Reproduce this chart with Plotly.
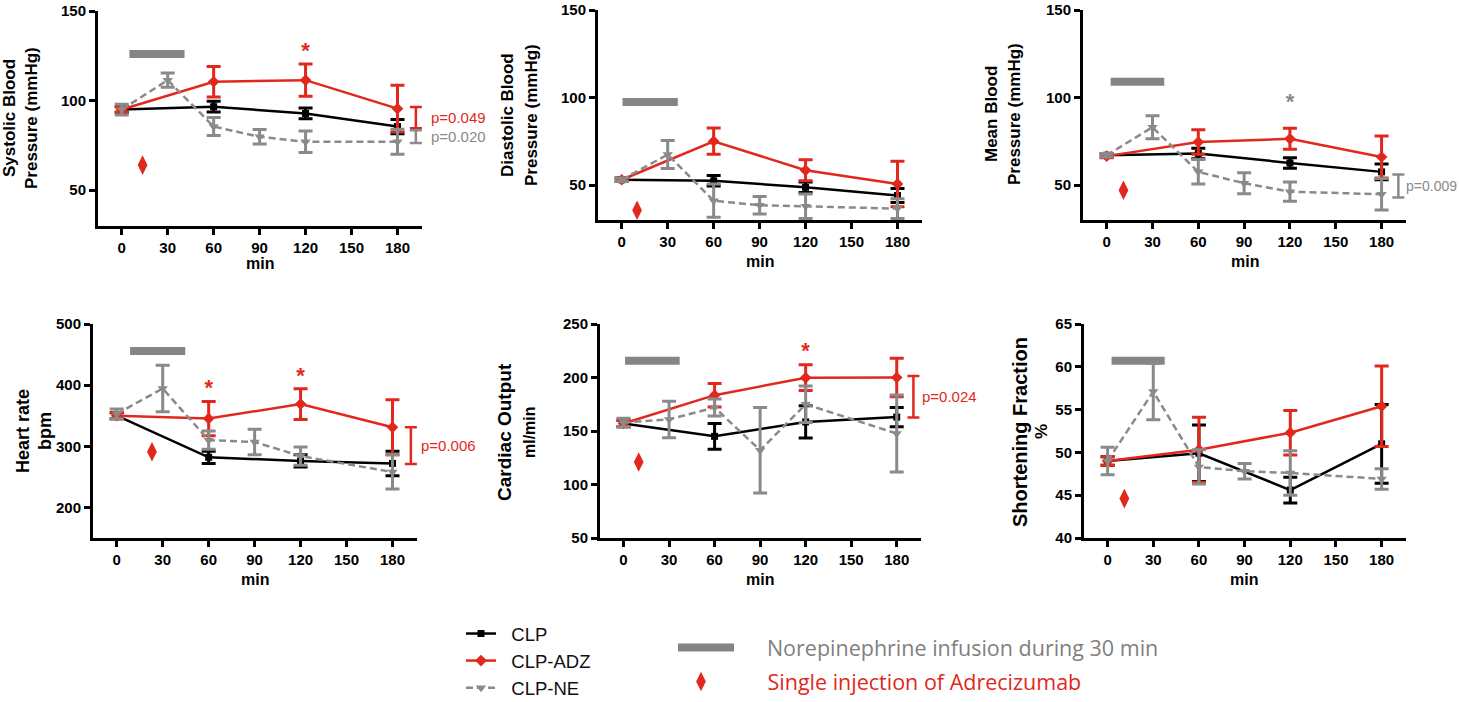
import plotly.graph_objects as go

W, H = 1459, 702

# ---------------- data ----------------
t_main = [0, 60, 120, 180]
t_ne = [0, 30, 60, 90, 120, 180]
x_ticks = [0, 30, 60, 90, 120, 150, 180]

# Systolic blood pressure (mmHg)
sbp_clp = [95, 96.6, 92.8, 85.5]
sbp_clp_sem = [1.5, 3, 3, 4]
sbp_adz = [95, 110.5, 111.4, 95.5]
sbp_adz_sem = [1.5, 8.5, 9, 13]
sbp_ne = [95, 111.4, 85.5, 79.8, 77, 77]
sbp_ne_sem = [3, 4, 5, 4, 6, 7]

# Diastolic blood pressure (mmHg)
dbp_clp = [53, 52.4, 48.7, 44]
dbp_clp_sem = [1, 3, 3, 4]
dbp_adz = [53, 75, 58.4, 50.6]
dbp_adz_sem = [1, 7.5, 6, 13]
dbp_ne = [53, 67.4, 41, 38.4, 37.8, 36.5]
dbp_ne_sem = [1, 8, 9.5, 5, 7, 5.6]

# Mean blood pressure (mmHg)
mbp_clp = [67, 68, 62.6, 57.5]
mbp_clp_sem = [1, 3, 3, 4.5]
mbp_adz = [66.5, 74.5, 76.4, 66]
mbp_adz_sem = [1, 7, 6, 12]
mbp_ne = [67, 83, 57.5, 51, 46.2, 44.7]
mbp_ne_sem = [1, 6.6, 7, 6, 5.5, 9]

# Heart rate (bpm)
hr_clp = [350, 282, 276, 272]
hr_clp_sem = [5, 10, 10, 20]
hr_adz = [350, 345.4, 369, 331]
hr_adz_sem = [5, 28, 25, 45]
hr_ne = [353, 394.5, 310, 307, 284, 258]
hr_ne_sem = [8, 38, 15, 21, 15, 28]

# Cardiac output (ml/min)
co_clp = [157, 145, 158.5, 163]
co_clp_sem = [3, 12, 15, 9]
co_adz = [157, 183.5, 199.8, 200]
co_adz_sem = [3, 11, 12, 18]
co_ne = [158, 160.8, 172, 132, 175, 147.6]
co_ne_sem = [4, 17, 8, 40, 17, 36]

# Shortening fraction (%)
sf_clp = [49, 49.9, 45.6, 51]
sf_clp_sem = [0.5, 3.3, 1.5, 4.6]
sf_adz = [49, 50.3, 52.3, 55.4]
sf_adz_sem = [0.5, 3.8, 2.6, 4.7]
sf_ne = [49, 57.1, 48.3, 47.8, 47.6, 46.9]
sf_ne_sem = [1.6, 3.3, 2, 0.9, 2.6, 1.2]

# Norepinephrine infusion bar (start, end, level) per panel
ne_bar_start = [5, 0.5, 2.6, 8.7, 1, 2.6]
ne_bar_end = [41, 36.6, 37.7, 44.7, 37, 37.5]
ne_bar_level = [126, 97.5, 109, 455.7, 215.7, 60.7]

# Adrecizumab injection diamond (time, level) per panel
adz_inj_t = [13.6, 10, 11, 23, 10, 11]
adz_inj_level = [64, 35.6, 47, 291, 121, 44.6]

# Significance stars
star_panel = [0, 2, 3, 3, 4]
star_t = [120, 120, 60, 120, 120]
star_level = [127, 96.5, 393, 413, 223]
star_group = ["adz", "ne", "adz", "adz", "adz"]

# p-value brackets
p_panel = [0, 0, 2, 3, 4]
p_low = [84.6, 76.3, 42.8, 271, 162.6]
p_high = [96.4, 83.5, 56, 331, 201.3]
p_label = ["p=0.049", "p=0.020", "p=0.009", "p=0.006", "p=0.024"]
p_group = ["adz", "ne", "ne", "adz", "adz"]
p_time = [192, 192, 191, 192, 191]
p_shift = [13, 13, 6, 8, 7]
p_size = [15, 15, 14, 15, 15]

# axes
y_ranges = [[30, 150], [30, 150], [30, 150], [150, 500], [50, 250], [40, 65]]
y_ticks = [[50, 100, 150], [50, 100, 150], [50, 100, 150],
           [200, 300, 400, 500], [50, 100, 150, 200, 250], [40, 45, 50, 55, 60, 65]]
y_title1 = ["Systolic Blood", "Diastolic Blood", "Mean Blood", "Heart rate", "Cardiac Output", "Shortening Fraction"]
y_title2 = ["Pressure (mmHg)", "Pressure (mmHg)", "Pressure (mmHg)", "bpm", "ml/min", "%"]

panels = [
    (sbp_clp, sbp_clp_sem, sbp_adz, sbp_adz_sem, sbp_ne, sbp_ne_sem),
    (dbp_clp, dbp_clp_sem, dbp_adz, dbp_adz_sem, dbp_ne, dbp_ne_sem),
    (mbp_clp, mbp_clp_sem, mbp_adz, mbp_adz_sem, mbp_ne, mbp_ne_sem),
    (hr_clp, hr_clp_sem, hr_adz, hr_adz_sem, hr_ne, hr_ne_sem),
    (co_clp, co_clp_sem, co_adz, co_adz_sem, co_ne, co_ne_sem),
    (sf_clp, sf_clp_sem, sf_adz, sf_adz_sem, sf_ne, sf_ne_sem),
]

# ---------------- style / layout ----------------
BLACK = "#000000"
RED = "#e2281c"
GRAY = "#8a8a8a"
BARGRAY = "#858585"
COLORS = {"clp": BLACK, "adz": RED, "ne": GRAY}
FONT = "Liberation Sans, Arial, Helvetica, sans-serif"
LFONT = "Open Sans, Lato, sans-serif"
NB = "&nbsp;"

boxes = [
    (98, 422, 11, 226), (598, 922, 10, 220), (1083, 1406, 10, 220),
    (93, 417, 324, 538), (600, 921, 324, 538), (1084, 1406, 324, 538),
]
x_range = [-15.5, 196]

title_pos = [(9, 31, 118), (507, 531, 115), (992, 1015, 114),
             (23, 45, 431), (504, 529, 432), (1020, 1041, 432)]
title_size1 = [17, 17, 17, 18, 19, 20]
title_size2 = [17, 17, 17, 18, 16, 17]
min_pos = [(260, 263), (760, 262), (1245, 262), (255, 579), (760, 579), (1244, 579)]


def px_x(x):
    return x / W


def px_y(y):
    return 1 - y / H


fig = go.Figure()
layout_axes = {}
annotations = []

for i, (clp, clp_e, adz, adz_e, ne, ne_e) in enumerate(panels):
    sfx = "" if i == 0 else str(i + 1)
    xa, ya = "x" + sfx, "y" + sfx
    x0, x1, yt, yb = boxes[i]
    layout_axes["xaxis" + sfx] = dict(
        domain=[px_x(x0), px_x(x1)], range=x_range, anchor=ya,
        showline=True, linewidth=3, linecolor="black", ticks="outside",
        ticklen=6, tickwidth=3, tickcolor="black", tickvals=x_ticks,
        ticktext=["<b>%d</b>" % v for v in x_ticks],
        tickfont=dict(family=FONT, size=15, color="black"),
        ticklabeloverflow="allow",
        showgrid=False, zeroline=False, fixedrange=True,
    )
    layout_axes["yaxis" + sfx] = dict(
        domain=[px_y(yb), px_y(yt)], range=y_ranges[i], anchor=xa,
        showline=True, linewidth=3, linecolor="black", ticks="outside",
        ticklen=6, tickwidth=3, tickcolor="black", tickvals=y_ticks[i],
        ticktext=["<b>%d</b>" % v for v in y_ticks[i]],
        tickfont=dict(family=FONT, size=15, color="black"),
        ticklabeloverflow="allow",
        showgrid=False, zeroline=False, fixedrange=True,
    )

    first = i == 0
    fig.add_trace(go.Scatter(
        x=[ne_bar_start[i], ne_bar_end[i]], y=[ne_bar_level[i]] * 2,
        mode="lines", line=dict(color=BARGRAY, width=8),
        xaxis=xa, yaxis=ya,
        name=NB * 5 + "Norepinephrine infusion during 30 min",
        legend="legend2", legendgroup="nebar", showlegend=first,
        cliponaxis=False, hoverinfo="skip"))
    fig.add_trace(go.Scatter(
        x=[adz_inj_t[i]], y=[adz_inj_level[i]], mode="markers",
        marker=dict(symbol="diamond-tall", size=14, color=RED),
        xaxis=xa, yaxis=ya,
        name=NB * 6 + "Single injection of Adrecizumab",
        legend="legend3", legendgroup="adzinj", showlegend=first,
        cliponaxis=False, hoverinfo="skip"))

    series = [
        ("CLP", t_main, clp, clp_e, BLACK, "square", "solid", 7),
        ("CLP-ADZ", t_main, adz, adz_e, RED, "diamond", "solid", 9),
        ("CLP-NE", t_ne, ne, ne_e, GRAY, "triangle-down", "7px,4px", 9),
    ]
    for name, tx, vals, errs, col, sym, dash, msz in series:
        fig.add_trace(go.Scatter(
            x=tx, y=vals, mode="lines+markers", name=NB * 2 + name,
            line=dict(color=col, width=2.5, dash=dash),
            marker=dict(symbol=sym, size=msz, color=col),
            error_y=dict(type="data", array=errs, visible=True, color=col,
                         thickness=3, width=7),
            xaxis=xa, yaxis=ya, legend="legend", legendgroup=name,
            showlegend=first, cliponaxis=False))

    lx1, lx2, ly = title_pos[i]
    annotations.append(dict(
        x=px_x(lx1), y=px_y(ly), xref="paper", yref="paper",
        text="<b>%s</b>" % y_title1[i],
        textangle=-90, showarrow=False, xanchor="center", yanchor="middle",
        font=dict(family=FONT, size=title_size1[i], color="black")))
    annotations.append(dict(
        x=px_x(lx2), y=px_y(ly), xref="paper", yref="paper",
        text="<b>%s</b>" % y_title2[i],
        textangle=-90, showarrow=False, xanchor="center", yanchor="middle",
        font=dict(family=FONT, size=title_size2[i], color="black")))
    mx, my = min_pos[i]
    annotations.append(dict(
        x=px_x(mx), y=px_y(my), xref="paper", yref="paper", text="<b>min</b>",
        showarrow=False, xanchor="center", yanchor="middle",
        font=dict(family=FONT, size=16, color="black")))

for pi, t, lv, g in zip(star_panel, star_t, star_level, star_group):
    sfx = "" if pi == 0 else str(pi + 1)
    fig.add_trace(go.Scatter(
        x=[t], y=[lv], mode="text", text=["<b>*</b>"], textposition="middle center",
        textfont=dict(family=FONT, size=22, color=COLORS[g]),
        xaxis="x" + sfx, yaxis="y" + sfx, showlegend=False, cliponaxis=False,
        hoverinfo="skip"))

for pi, tt, lo, hi, lab, g, sh, fs in zip(p_panel, p_time, p_low, p_high, p_label,
                                          p_group, p_shift, p_size):
    sfx = "" if pi == 0 else str(pi + 1)
    mid = (lo + hi) / 2
    fig.add_trace(go.Scatter(
        x=[tt], y=[mid], mode="markers", marker=dict(size=1, opacity=0),
        error_y=dict(type="data", array=[hi - mid], visible=True,
                     color=COLORS[g], thickness=2.5, width=6),
        xaxis="x" + sfx, yaxis="y" + sfx, showlegend=False, cliponaxis=False,
        hoverinfo="skip"))
    annotations.append(dict(
        x=tt, y=mid, xref="x" + sfx, yref="y" + sfx, text=lab,
        showarrow=False, xanchor="left", yanchor="middle", xshift=sh,
        font=dict(family=FONT, size=fs, color=COLORS[g])))

fig.update_layout(
    width=W, height=H, autosize=False,
    margin=dict(l=0, r=0, t=0, b=0, pad=0, autoexpand=False),
    paper_bgcolor="white", plot_bgcolor="white",
    showlegend=True,
    legend=dict(x=px_x(461), y=px_y(615), xanchor="left", yanchor="top",
                bgcolor="rgba(0,0,0,0)", itemwidth=30, tracegroupgap=0,
                font=dict(family=FONT, size=18.5, color="#111111")),
    legend2=dict(x=px_x(673), y=px_y(627), xanchor="left", yanchor="top",
                 bgcolor="rgba(0,0,0,0)", itemwidth=56, tracegroupgap=0,
                 font=dict(family=LFONT, size=21.5, color="#7f7f7f")),
    legend3=dict(x=px_x(668), y=px_y(661), xanchor="left", yanchor="top",
                 bgcolor="rgba(0,0,0,0)", itemwidth=56, tracegroupgap=0,
                 font=dict(family=LFONT, size=21.5, color=RED)),
    annotations=annotations,
    **layout_axes,
)

fig.write_html(
    "out.html",
    config={"displayModeBar": False, "staticPlot": True},
    post_script="document.body.style.margin='0';document.body.style.overflow='hidden';",
)
